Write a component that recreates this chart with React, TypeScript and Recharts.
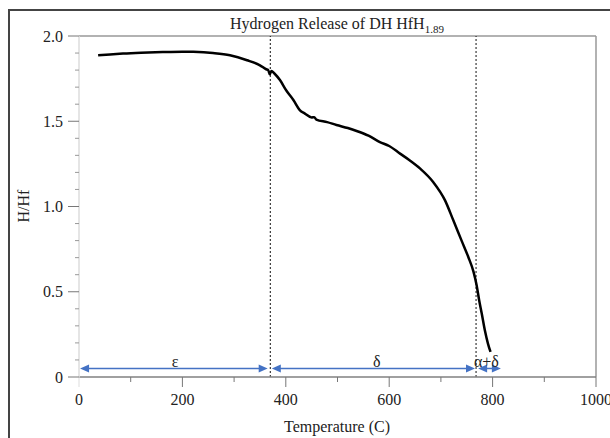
import React from 'react';
import { ComposedChart, Line, XAxis, YAxis, ReferenceLine, ReferenceDot } from 'recharts';

// curve (temperature in C, H/Hf ratio)
const temperature = [
    37, 60, 85, 120, 162, 200, 221, 259, 292, 325, 350, 362, 366, 369, 372, 378, 389, 401, 415, 427,
    437, 450, 455, 459, 480, 498, 520, 537, 560, 582, 600, 621, 640, 660, 685, 708, 724, 740, 753, 763,
    769, 774, 779, 785, 791, 796
];
const hRatio = [
    1.887, 1.892, 1.897, 1.902, 1.906, 1.908, 1.907, 1.9, 1.887, 1.858, 1.828, 1.805, 1.8, 1.775, 1.795, 1.78, 1.74, 1.68, 1.623, 1.565,
    1.545, 1.522, 1.524, 1.51, 1.495, 1.478, 1.46, 1.443, 1.415, 1.378, 1.355, 1.31, 1.27, 1.222, 1.144, 1.036, 0.919, 0.8, 0.704, 0.618,
    0.54, 0.45, 0.372, 0.274, 0.196, 0.147
];

const xTicks = [0, 100, 200, 300, 400, 500, 600, 700, 800, 900, 1000];
const xMajorTicks = [0, 200, 400, 600, 800, 1000];
const yTicks = [0, 0.1, 0.2, 0.3, 0.4, 0.5, 0.6, 0.7, 0.8, 0.9, 1, 1.1, 1.2, 1.3, 1.4, 1.5, 1.6, 1.7, 1.8, 1.9, 2];
const yMajorTicks = [0, 0.5, 1, 1.5, 2];

// phase boundaries and the arrows under the curve
const phaseBoundaries = [370, 768];
const phaseStart = [2, 373, 772];
const phaseEnd = [365, 766, 816];
const phaseNames = ['ε', 'δ', 'α+δ'];
const phaseLabelX = [186, 576, 788];
const arrowLevel = 0.05;
const labelLevel = 0.09;

const data = temperature.map((t, i) => ({ t, h: hRatio[i] }));

const FONT = "'Liberation Serif', 'Times New Roman', serif";
const BLUE = '#4472c4';
const textStyle = { fontFamily: FONT };

const YTick = (props: any) => {
    const { x, y, payload } = props;
    const major = yMajorTicks.includes(payload.value);
    return (
        <g>
            <line x1={x - (major ? 11 : 4)} y1={y} x2={x} y2={y} stroke={major ? '#777' : '#999'} strokeWidth={1} />
            {major && (
                <text x={x - 16} y={y} dy="0.35em" textAnchor="end" fontSize={16} style={textStyle} fill="#222">
                    {payload.value === 0 ? '0' : payload.value.toFixed(1)}
                </text>
            )}
        </g>
    );
};

const XTick = (props: any) => {
    const { x, y, payload } = props;
    const major = xMajorTicks.includes(payload.value);
    const stroke = payload.value === 0 ? '#ddd' : '#777';
    return (
        <g>
            <line x1={x} y1={y} x2={x} y2={y + (major ? 10 : 5)} stroke={stroke} strokeWidth={1} />
            {major && (
                <text x={x} y={y + 28} textAnchor="middle" fontSize={16} style={textStyle} fill="#222">
                    {payload.value}
                </text>
            )}
        </g>
    );
};

const Arrow = (p: any) => {
    const { x1, y1, x2, y2 } = p;
    const len = 9;
    const half = 4;
    return (
        <g>
            <line x1={x1 + len - 1} y1={y1} x2={x2 - len + 1} y2={y2} stroke={BLUE} strokeWidth={1.5} />
            <polygon points={`${x1},${y1} ${x1 + len},${y1 - half} ${x1 + len},${y1 + half}`} fill={BLUE} />
            <polygon points={`${x2},${y2} ${x2 - len},${y2 - half} ${x2 - len},${y2 + half}`} fill={BLUE} />
        </g>
    );
};

export default function App() {
    return (
        <div style={{ position: 'absolute', left: 0, top: 0, width: 610, height: 438, overflow: 'hidden', background: '#fff', fontFamily: FONT }}>
            <div style={{ position: 'absolute', left: 8, top: 9, width: 700, height: 500, border: '2px solid #444' }} />
            <div style={{ position: 'absolute', left: 0, top: 0 }}>
                <ComposedChart width={610} height={438} data={data} margin={{ top: 36, right: 14, bottom: 31, left: 19 }} style={textStyle}>
                    <XAxis
                        dataKey="t"
                        type="number"
                        domain={[0, 1000]}
                        ticks={xTicks}
                        interval={0}
                        height={30}
                        tickSize={0}
                        tickMargin={0}
                        tickLine={false}
                        tick={<XTick />}
                        axisLine={{ stroke: '#808080', strokeWidth: 1.5 }}
                    />
                    <YAxis
                        type="number"
                        domain={[0, 2]}
                        ticks={yTicks}
                        interval={0}
                        width={60}
                        tickSize={0}
                        tickMargin={0}
                        tickLine={false}
                        tick={<YTick />}
                        axisLine={{ stroke: '#dcdcdc', strokeWidth: 1.5 }}
                    />
                    <ReferenceLine y={2} stroke="#999" strokeWidth={1.5} />
                    <ReferenceLine x={1000} stroke="#999" strokeWidth={1.5} />
                    {phaseBoundaries.map((b) => (
                        <ReferenceLine key={b} x={b} stroke="#111" strokeWidth={1} strokeDasharray="2 2" />
                    ))}
                    {phaseNames.map((name, i) => (
                        <ReferenceLine
                            key={name}
                            segment={[{ x: phaseStart[i], y: arrowLevel }, { x: phaseEnd[i], y: arrowLevel }]}
                            shape={<Arrow />}
                        />
                    ))}
                    {phaseNames.map((name, i) => (
                        <ReferenceDot
                            key={'l' + name}
                            x={phaseLabelX[i]}
                            y={labelLevel}
                            r={0}
                            fill="none"
                            stroke="none"
                            label={{ value: name, position: 'center', fontSize: 16, style: textStyle, fill: '#222' }}
                        />
                    ))}
                    <Line
                        type="monotone"
                        dataKey="h"
                        stroke="#000"
                        strokeWidth={2.5}
                        dot={false}
                        isAnimationActive={false}
                    />
                    <text x={337} y={29} textAnchor="middle" fontSize={16} style={textStyle} fill="#222">
                        Hydrogen Release of DH HfH
                        <tspan fontSize={11} dy={4}>1.89</tspan>
                    </text>
                    <text x={337} y={432} textAnchor="middle" fontSize={16} style={textStyle} fill="#222">
                        Temperature (C)
                    </text>
                    <text
                        x={23}
                        y={206}
                        textAnchor="middle"
                        dominantBaseline="central"
                        transform="rotate(-90, 23, 206)"
                        fontSize={16}
                        style={textStyle}
                        fill="#222"
                    >
                        H/Hf
                    </text>
                </ComposedChart>
            </div>
        </div>
    );
}
